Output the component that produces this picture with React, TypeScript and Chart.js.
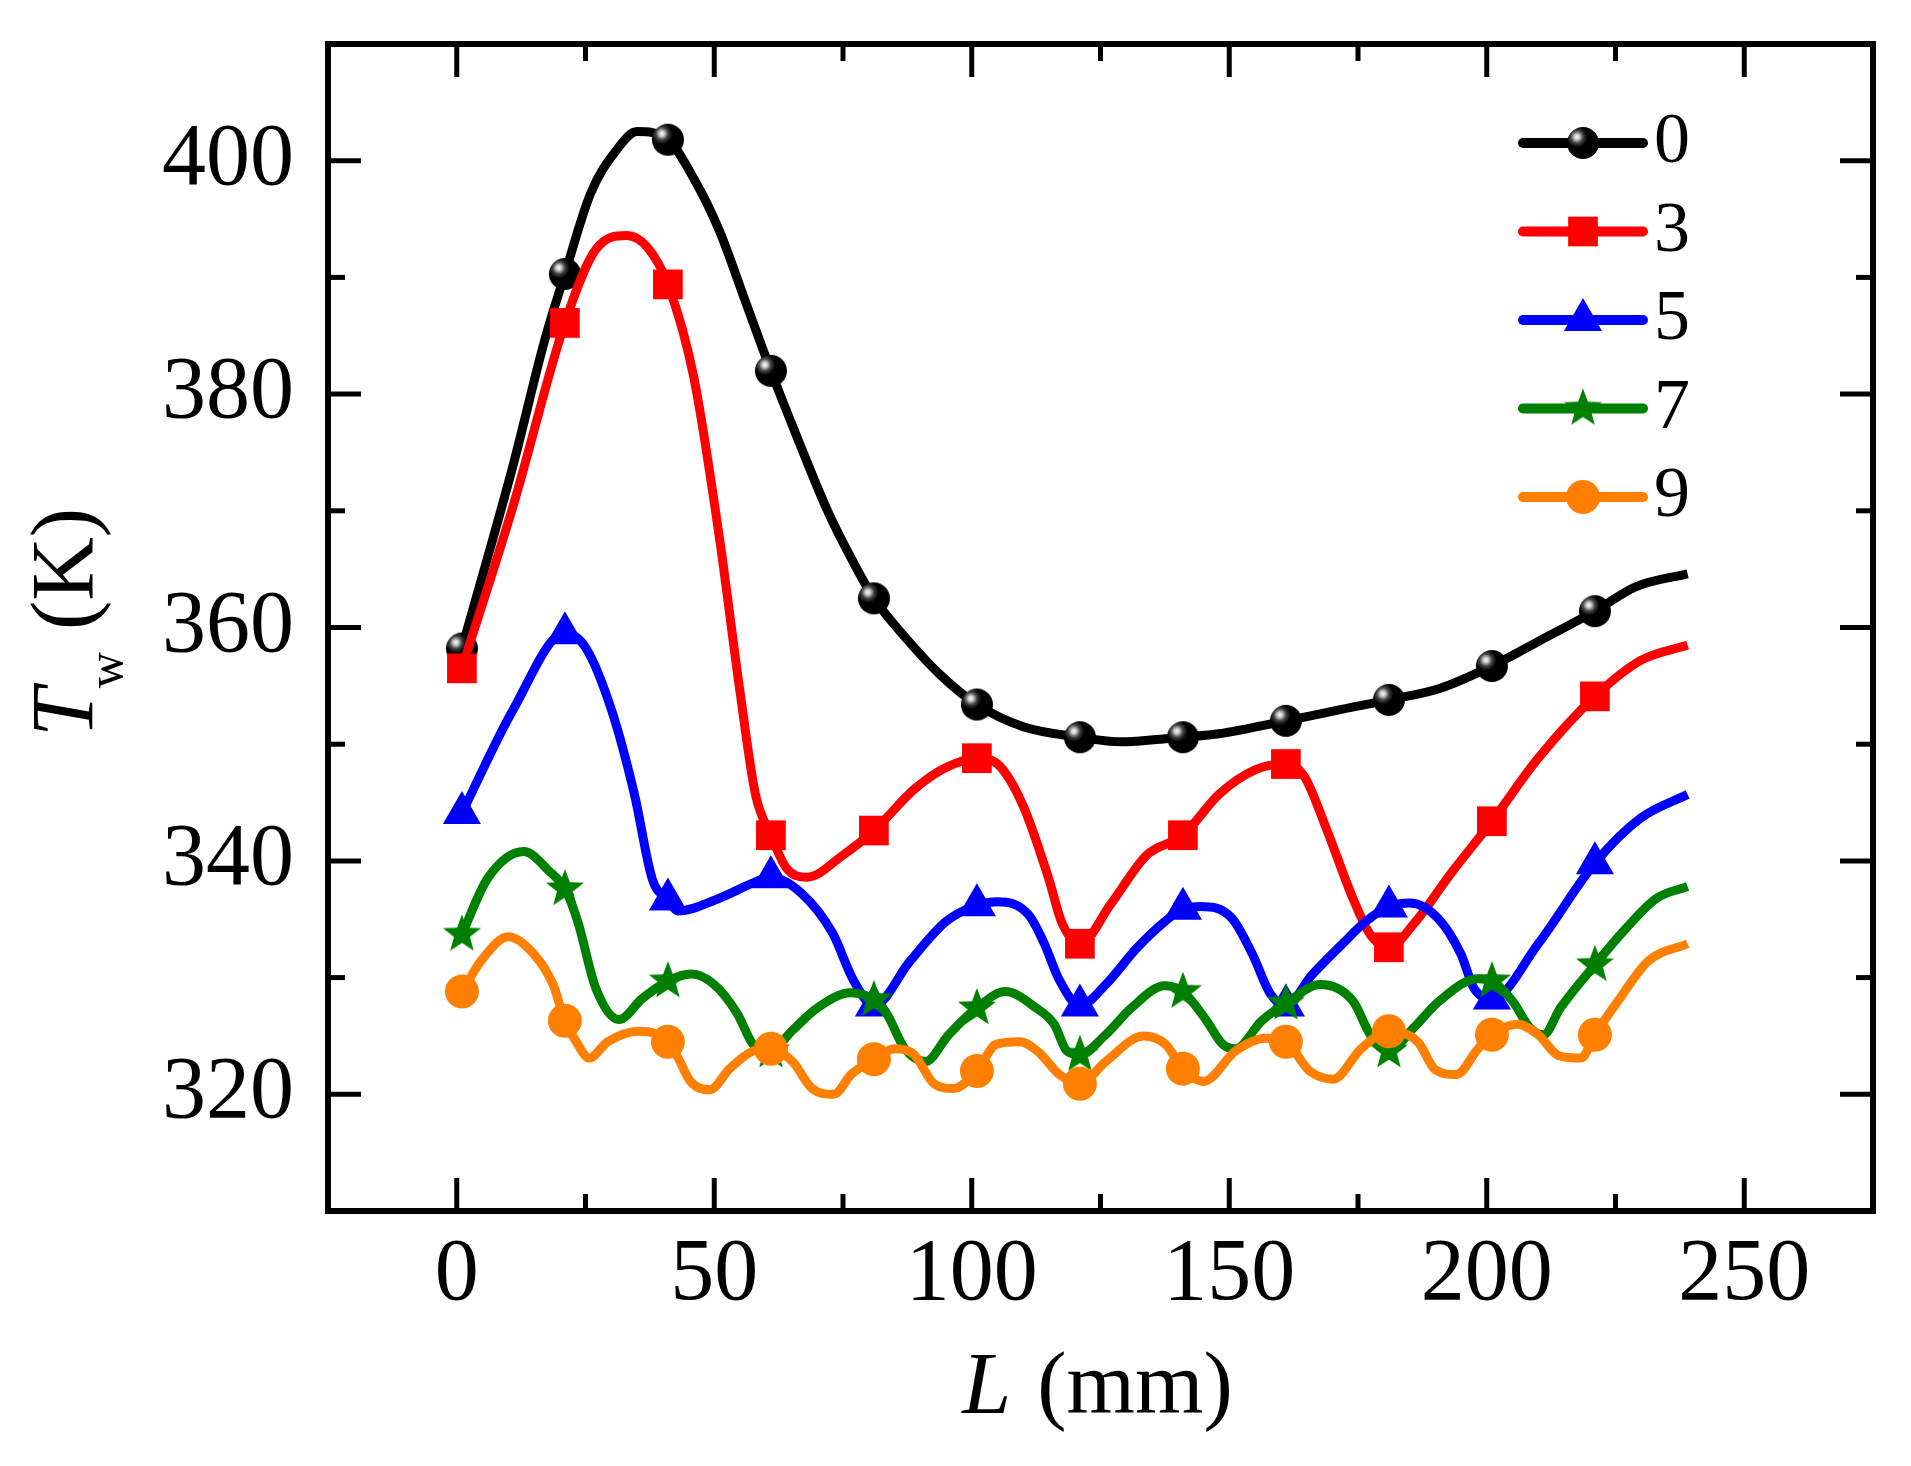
import { useEffect, useRef } from "react";
import { Chart, registerables } from "chart.js";
import { drawPoint } from "chart.js/helpers";

Chart.register(...registerables);

const FONT = '"Liberation Serif", "Times New Roman", serif';

// positions (mm) where the symbols sit
const markerX = [1, 21, 41, 61, 81, 101, 121, 141, 161, 181, 201, 221];

const seriesLabels = ["0", "3", "5", "7", "9"];
const seriesColors = ["#000000", "#ff0000", "#0000ff", "#008000", "#ff8000"];

const xTicks = [0, 50, 100, 150, 200, 250];
const xMinorTicks = [25, 75, 125, 175, 225];
const yTicks = [320, 340, 360, 380, 400];
const yMinorTicks = [330, 350, 370, 390];

// 0
const x0 = [1, 11, 17, 21, 26, 31, 35, 41, 46, 51, 56, 61, 66, 72, 77, 81, 87, 94, 101, 110, 121, 129, 136, 141, 148, 161, 172, 181, 191, 201, 210, 221, 229, 239];
const t0 = [358.2, 374.0, 384.5, 390.3, 397.2, 400.9, 402.5, 401.8, 398.5, 394.0, 388.0, 382.0, 376.4, 370.0, 365.6, 362.5, 359.2, 355.9, 353.4, 351.5, 350.6, 350.2, 350.4, 350.6, 350.9, 352.0, 353.0, 353.8, 354.8, 356.7, 358.8, 361.4, 363.5, 364.6];

// 3
const x3 = [1, 11, 21, 27, 33, 37, 41, 46, 51, 55, 58, 61, 64, 68, 75, 81, 89, 95, 101, 105, 110, 115, 117.5, 121, 127, 134, 141, 148, 155, 161, 164.5, 169, 174, 177.5, 181, 186, 193, 201, 210, 221, 230, 239];
const t3 = [356.5, 370.5, 386.1, 392.4, 393.6, 392.6, 389.4, 381.5, 367.7, 354.5, 345.7, 342.2, 339.4, 338.6, 340.5, 342.6, 346.2, 348.0, 348.8, 348.3, 344.7, 338.4, 334.7, 332.9, 336.3, 340.5, 342.2, 345.7, 347.8, 348.3, 347.3, 342.6, 336.8, 333.6, 332.6, 334.7, 338.9, 343.4, 348.8, 354.1, 357.2, 358.5];

// 5
const x5 = [1, 11, 21, 25, 30, 34.5, 38, 41, 43, 51, 58, 61, 67, 73, 77, 81, 88, 95, 101, 105, 111, 114, 117, 121, 126, 132, 137.5, 141, 144.5, 150.5, 154.5, 158, 161, 166, 172, 176.5, 181, 185, 190.5, 195, 197.5, 201, 210, 221, 230, 239];
const t5 = [344.1, 353.0, 359.5, 358.3, 353.0, 345.7, 338.4, 336.7, 335.7, 336.8, 338.2, 338.6, 337.2, 333.8, 329.8, 327.6, 331.4, 334.8, 336.2, 336.5, 335.4, 333.0, 329.8, 327.6, 329.4, 332.5, 334.8, 335.9, 336.1, 335.1, 332.0, 328.6, 327.6, 330.2, 332.9, 334.8, 336.1, 336.4, 335.1, 332.0, 329.1, 328.2, 332.9, 339.8, 343.7, 345.7];

// 7
const x7 = [1, 6, 13, 18, 21, 23.5, 27, 31.5, 36, 41, 45.5, 50, 54.5, 57.5, 61, 65, 70, 76.5, 81, 83.5, 87, 91, 95.5, 101, 106.5, 112.5, 116, 118.5, 121, 126, 131, 137.5, 141, 145.3, 148.7, 151.2, 156.3, 161, 167.7, 174, 177.4, 181, 185.8, 190.8, 198.3, 201, 205, 208.4, 211, 214.3, 221, 227, 233, 239];
const t7 = [333.7, 338.5, 340.8, 339.1, 337.6, 334.8, 329.1, 326.4, 328.2, 329.7, 330.3, 329.4, 326.9, 324.3, 323.7, 325.4, 327.4, 328.7, 328.1, 326.9, 323.9, 322.8, 325.1, 327.4, 328.8, 327.4, 326.0, 323.7, 323.4, 325.1, 327.4, 329.3, 328.8, 326.5, 324.3, 323.9, 326.3, 327.8, 329.4, 328.0, 325.1, 323.7, 325.7, 328.0, 329.9, 329.7, 328.0, 325.7, 325.1, 327.4, 331.1, 334.2, 336.8, 337.8];

// 9
const x9 = [1, 5, 10, 15, 18.7, 21, 23.2, 25.7, 29.3, 35.4, 41, 43, 45.4, 49.2, 53, 57.5, 61, 65.2, 69, 73.2, 76.6, 81, 85, 88.8, 92.7, 96.5, 101, 104.8, 109.4, 113, 117, 121, 126, 133.4, 137.6, 141, 145, 151.2, 157, 161, 165.6, 170.2, 175.6, 181, 186.6, 190, 194.1, 198.3, 201, 206, 210, 214, 218.3, 221, 225.5, 231.3, 239];
const t9 = [328.8, 331.6, 333.5, 332.0, 329.4, 326.3, 324.5, 323.1, 324.5, 325.4, 324.5, 323.1, 321.1, 320.4, 322.2, 323.7, 323.9, 322.8, 320.5, 320.0, 321.7, 323.0, 323.9, 323.4, 320.9, 320.5, 322.0, 324.3, 324.5, 323.6, 321.7, 320.9, 322.8, 325.0, 324.3, 322.2, 321.1, 323.7, 324.8, 324.5, 322.0, 321.3, 323.9, 325.4, 324.5, 322.1, 321.7, 323.9, 325.1, 326.0, 325.1, 323.3, 323.1, 325.1, 328.0, 331.4, 332.9];

const seriesX = [x0, x3, x5, x7, x9];
const seriesT = [t0, t3, t5, t7, t9];

// black ball with a highlight
function makeSphere(r: number) {
  const c = document.createElement("canvas");
  c.width = c.height = r * 2 + 2;
  const g = c.getContext("2d")!;
  const cx = r + 1;
  const hx = cx - r * 0.38;
  const grad = g.createRadialGradient(hx, hx, 0, hx, hx, r * 1.2);
  grad.addColorStop(0, "#ffffff");
  grad.addColorStop(0.14, "#c8c8c8");
  grad.addColorStop(0.32, "#444444");
  grad.addColorStop(0.55, "#000000");
  g.fillStyle = grad;
  g.beginPath();
  g.arc(cx, cx, r, 0, Math.PI * 2);
  g.fill();
  return c;
}

function makeStar(r: number, color: string) {
  const c = document.createElement("canvas");
  c.width = c.height = r * 2 + 2;
  const g = c.getContext("2d")!;
  const cx = r + 1;
  g.fillStyle = color;
  g.beginPath();
  for (let i = 0; i < 10; i++) {
    const a = -Math.PI / 2 + (i * Math.PI) / 5;
    const rr = i % 2 ? r * 0.42 : r;
    const px = cx + Math.cos(a) * rr;
    const py = cx + Math.sin(a) * rr;
    if (i === 0) g.moveTo(px, py);
    else g.lineTo(px, py);
  }
  g.closePath();
  g.fill();
  return c;
}

export default function App() {
  const canvasRef = useRef<HTMLCanvasElement | null>(null);
  const chartRef = useRef<Chart | null>(null);

  useEffect(() => {
    const canvas = canvasRef.current;
    if (!canvas) return;
    if (chartRef.current) {
      chartRef.current.destroy();
      chartRef.current = null;
    }

    const styles: any[] = [makeSphere(16), "rect", "triangle", makeStar(20, seriesColors[3]), "circle"];
    const radii = [16, 21, 22, 20, 17];

    const datasets = seriesLabels.map((label, i) => ({
      label,
      data: seriesX[i].map((x, j) => ({ x, y: seriesT[i][j] })),
      borderColor: seriesColors[i],
      backgroundColor: seriesColors[i],
      borderWidth: 9,
      cubicInterpolationMode: "monotone" as const,
      pointStyle: styles[i],
      pointBorderWidth: 0,
      pointRadius: (c: any) => (c.raw && markerX.includes(c.raw.x) ? radii[i] : 0),
      order: seriesLabels.length - i,
    }));

    // frame, inward ticks, legend and axis titles
    const decor = {
      id: "decor",
      afterDatasetsDraw(chart: Chart) {
        const { ctx, chartArea: a } = chart;
        const xs = chart.scales.x;
        const ys = chart.scales.y;
        ctx.save();
        ctx.strokeStyle = "#000";
        ctx.lineCap = "butt";
        const seg = (x1: number, y1: number, x2: number, y2: number, w: number) => {
          ctx.lineWidth = w;
          ctx.beginPath();
          ctx.moveTo(x1, y1);
          ctx.lineTo(x2, y2);
          ctx.stroke();
        };
        const major = 33;
        const minor = 17;
        xTicks.forEach((v) => {
          const p = xs.getPixelForValue(v);
          seg(p, a.bottom, p, a.bottom - major, 5);
          seg(p, a.top, p, a.top + major, 5);
        });
        xMinorTicks.forEach((v) => {
          const p = xs.getPixelForValue(v);
          seg(p, a.bottom, p, a.bottom - minor, 5);
          seg(p, a.top, p, a.top + minor, 5);
        });
        yTicks.forEach((v) => {
          const p = ys.getPixelForValue(v);
          seg(a.left, p, a.left + major, p, 5);
          seg(a.right, p, a.right - major, p, 5);
        });
        yMinorTicks.forEach((v) => {
          const p = ys.getPixelForValue(v);
          seg(a.left, p, a.left + minor, p, 5);
          seg(a.right, p, a.right - minor, p, 5);
        });
        ctx.lineWidth = 6;
        ctx.strokeRect(a.left, a.top, a.right - a.left, a.bottom - a.top);

        // legend
        const lx1 = a.right - 350;
        const lx2 = a.right - 230;
        seriesLabels.forEach((label, i) => {
          const ry = a.top + 99 + i * 88.5;
          ctx.strokeStyle = seriesColors[i];
          ctx.fillStyle = seriesColors[i];
          ctx.lineCap = "round";
          seg(lx1, ry, lx2, ry, 10);
          drawPoint(ctx, { pointStyle: styles[i], radius: radii[i], rotation: 0, borderWidth: 0 } as any, (lx1 + lx2) / 2, ry);
          ctx.fillStyle = "#000";
          ctx.font = `72px ${FONT}`;
          ctx.textAlign = "left";
          ctx.textBaseline = "alphabetic";
          ctx.fillText(label, a.right - 219, ry + 19);
        });

        // axis titles
        ctx.fillStyle = "#000";
        ctx.textAlign = "left";
        ctx.textBaseline = "alphabetic";
        const fIt = `italic 88px ${FONT}`;
        const fUp = `88px ${FONT}`;
        const fSub = `50px ${FONT}`;

        ctx.font = fIt;
        const wL = ctx.measureText("L").width;
        ctx.font = fUp;
        const wMm = ctx.measureText(" (mm)").width;
        let tx = (a.left + a.right) / 2 - 5 - (wL + wMm) / 2;
        const ty = a.bottom + 202;
        ctx.font = fIt;
        ctx.fillText("L", tx, ty);
        ctx.font = fUp;
        ctx.fillText(" (mm)", tx + wL + 4, ty);

        ctx.save();
        ctx.translate(a.left - 236, (a.top + a.bottom) / 2 - 5);
        ctx.rotate(-Math.PI / 2);
        ctx.font = fIt;
        const wT = ctx.measureText("T").width;
        ctx.font = fSub;
        const wW = ctx.measureText("w").width;
        ctx.font = fUp;
        const wK = ctx.measureText(" (K)").width;
        tx = -(wT + wW + wK) / 2;
        ctx.font = fIt;
        ctx.fillText("T", tx, 0);
        ctx.font = fSub;
        ctx.fillText("w", tx + wT, 30);
        ctx.font = fUp;
        ctx.fillText(" (K)", tx + wT + wW, 0);
        ctx.restore();

        ctx.restore();
      },
    };

    chartRef.current = new Chart(canvas, {
      type: "line",
      data: { datasets },
      options: {
        animation: false,
        responsive: false,
        events: [],
        layout: { padding: { left: 0, right: 38, top: 44, bottom: 0 } },
        plugins: {
          legend: { display: false },
          tooltip: { enabled: false },
          title: { display: false },
        },
        scales: {
          x: {
            type: "linear",
            min: -25,
            max: 275,
            grid: { display: false, drawTicks: false },
            border: { display: false },
            afterBuildTicks: (s: any) => {
              s.ticks = xTicks.map((value) => ({ value }));
            },
            afterFit: (s: any) => {
              s.height = 255;
              s.paddingLeft = 0;
              s.paddingRight = 0;
            },
            ticks: {
              font: { family: FONT, size: 88 },
              color: "#000",
              padding: 12,
              maxRotation: 0,
              autoSkip: false,
            },
          },
          y: {
            type: "linear",
            min: 310,
            max: 410,
            grid: { display: false, drawTicks: false },
            border: { display: false },
            afterBuildTicks: (s: any) => {
              s.ticks = yTicks.map((value) => ({ value }));
            },
            afterFit: (s: any) => {
              s.width = 328;
              s.paddingTop = 0;
              s.paddingBottom = 0;
            },
            ticks: {
              font: { family: FONT, size: 88 },
              color: "#000",
              padding: 34,
              autoSkip: false,
            },
          },
        },
      } as any,
      plugins: [decor],
    });

    return () => {
      if (chartRef.current) {
        chartRef.current.destroy();
        chartRef.current = null;
      }
    };
  }, []);

  return (
    <div style={{ position: "absolute", left: 0, top: 0, width: 1911, height: 1466, background: "#fff" }}>
      <canvas ref={canvasRef} width={1911} height={1466} style={{ display: "block", width: 1911, height: 1466 }} />
    </div>
  );
}
